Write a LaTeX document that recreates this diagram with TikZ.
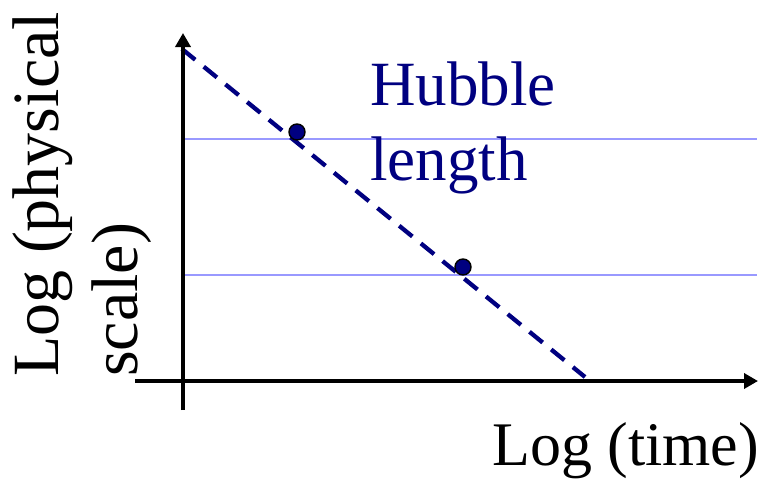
\documentclass[tikz,border=0pt]{standalone}
\usepackage{fontspec}
\setmainfont{Liberation Serif}
\usetikzlibrary{arrows.meta}
\definecolor{navyc}{RGB}{0,0,128}
\definecolor{lightb}{RGB}{153,153,255}
\begin{document}
\begin{tikzpicture}[x=1pt,y=-1pt,
  axis/.style={line width=4pt,-{Triangle[length=14pt,width=15pt]}},
  hline/.style={line width=2pt,lightb},
  dashln/.style={line width=4.3pt,navyc,dash pattern=on 17pt off 11pt},
  dotm/.style={circle,fill=navyc,draw=black,line width=1.4pt,minimum size=16pt,inner sep=0pt},
  lbl/.style={inner sep=0pt,font=\fontsize{63}{75}\selectfont},
  ylbl/.style={inner sep=0pt,font=\fontsize{66}{79}\selectfont,rotate=90,anchor=base west}]
\useasboundingbox (0,0) rectangle (765,479);
\coordinate (yb) at (183,410);
\coordinate (yt) at (183,33);
\coordinate (xl) at (135,381);
\coordinate (xr) at (758,381);
\coordinate (h1l) at (183,139);
\coordinate (h1r) at (757,139);
\coordinate (h2l) at (183,275);
\coordinate (h2r) at (757,275);
\coordinate (ds) at (182,49);
\coordinate (de) at (585,377);
\draw[hline] (h1l) -- (h1r);
\draw[hline] (h2l) -- (h2r);
\draw[dashln] (ds) -- (de);
\draw[axis] (yb) -- (yt);
\draw[axis] (xl) -- (xr);
\node[dotm] (d1) at (297,132) {};
\node[dotm] (d2) at (463,267) {};
\node[lbl,navyc,anchor=base west] (hub) at (370,105) {Hubble};
\node[lbl,navyc,anchor=base west] (len) at (370,180) {length};
\node[lbl,anchor=base west,font=\fontsize{62}{75}\selectfont] (lt) at (492,465) {Log (time)};
\node[ylbl] (ly1) at (58,377) {Log (physical};
\node[ylbl] (ly2) at (137,377) {scale)};
\end{tikzpicture}
\end{document}
